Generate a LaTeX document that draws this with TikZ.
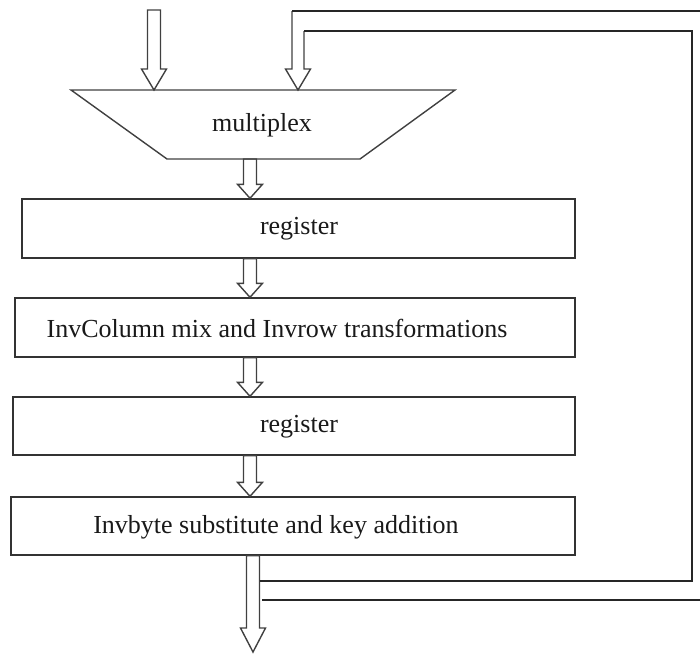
\documentclass[tikz,border=0pt]{standalone}
\usepackage{fontspec}
\setmainfont{Liberation Serif}
\usetikzlibrary{calc}
\newcommand\blockarrow[4]{% #1 = x centre, #2 = from, #3 = to, #4 = head length
  \draw[blk] let \p1=(#2), \p2=(#3) in
    (#1pt-6.5pt,\y1) -- (#1pt-6.5pt,\y2+#4pt) -- (#1pt-12.5pt,\y2+#4pt) -- (#1pt,\y2)
    -- (#1pt+12.5pt,\y2+#4pt) -- (#1pt+6.5pt,\y2+#4pt) -- (#1pt+6.5pt,\y1) -- cycle;}
\begin{document}
\begin{tikzpicture}[x=1pt,y=-1pt,
  box/.style={draw=black!80, rectangle, inner sep=0pt, line width=1.4pt},
  lbl/.style={font=\fontsize{26}{30}\selectfont, inner sep=0pt, text=black!90},
  blk/.style={draw=black!75, line width=1.4pt, line join=miter},
  bus/.style={draw=black!85, line width=1.2pt}]
\useasboundingbox (0,0) rectangle (700,653);
\clip (0,0) rectangle (700,653);

% multiplexer (trapezoid)
\coordinate (m1) at (71,90);
\coordinate (m2) at (455,90);
\coordinate (m3) at (360,159);
\coordinate (m4) at (167,159);
\draw[blk] (m1) -- (m2) -- (m3) -- (m4) -- cycle;
\node[lbl] (muxt) at (262,125) {multiplex};

% boxes
\node[box, minimum width=553pt, minimum height=59pt] (reg1) at (298.5,228.5) {};
\node[box, minimum width=560pt, minimum height=59pt] (inv)  at (295,327.5) {};
\node[box, minimum width=562pt, minimum height=58pt] (reg2) at (294,426) {};
\node[box, minimum width=564pt, minimum height=58pt] (sub)  at (293,526) {};
\node[lbl] (reg1t) at (299,229) {register};
\node[lbl] (invt)  at (277,328) {InvColumn mix and Invrow transformations};
\node[lbl] (reg2t) at (299,427) {register};
\node[lbl] (subt)  at (276,527) {Invbyte substitute and key addition};

% input arrows
\coordinate (in1) at (154,10);
\coordinate (t1) at (154,90);
\blockarrow{154}{in1}{t1}{21}
\coordinate (fbo) at (292,11);
\coordinate (fbi) at (304,31);
\coordinate (t2) at (298,90);
\draw[blk] (fbi) -- (304,69) -- (310.5,69) -- (t2) -- (285.5,69) -- (292,69) -- (fbo);

% arrows between stages
\coordinate (m34) at (250,159);
\blockarrow{250}{m34}{reg1.north}{14}
\blockarrow{250}{reg1.south}{inv.north}{14}
\blockarrow{250}{inv.south}{reg2.north}{14}
\blockarrow{250}{reg2.south}{sub.north}{14}

% output arrow
\coordinate (out) at (253,652);
\blockarrow{253}{sub.south}{out}{24}

% feedback bus
\coordinate (bi) at (259.5,581);
\coordinate (bo) at (262,600);
\draw[bus] (bi) -- (692,581) -- (692,31) -- (fbi);
\draw[bus] (bo) -- (712,600) -- (712,11) -- (fbo);
\end{tikzpicture}
\end{document}
